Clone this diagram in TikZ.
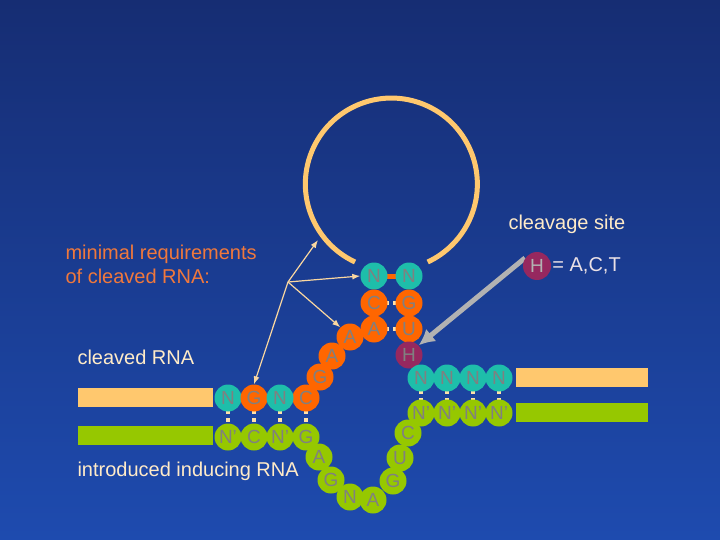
\documentclass[tikz,border=0pt]{standalone}
\usepackage{fontspec}
\setmainfont{Liberation Sans}
\usetikzlibrary{arrows.meta}
\definecolor{cream}{RGB}{255,200,110}
\definecolor{lgreen}{RGB}{150,200,0}
\definecolor{teal2}{RGB}{30,190,170}
\definecolor{orng}{RGB}{255,102,0}
\definecolor{maroon2}{RGB}{150,40,95}
\definecolor{pairc}{RGB}{255,225,170}
\definecolor{reqc}{RGB}{250,215,160}
\definecolor{bgtop}{RGB}{22,45,115}
\definecolor{bgbot}{RGB}{30,75,175}
\definecolor{txtc}{RGB}{255,235,200}
\definecolor{otxt}{RGB}{240,120,60}
\definecolor{ltxt}{RGB}{235,225,230}
\definecolor{lett}{RGB}{128,128,128}
\begin{document}
\begin{tikzpicture}[x=1pt,y=-1pt,
  base/.style={circle,minimum size=27pt,inner sep=0pt,text=lett,font=\fontsize{19}{19}\selectfont},
  tl/.style={base,fill=teal2},
  og/.style={base,fill=orng},
  gr/.style={base,fill=lgreen},
  mr/.style={base,fill=maroon2},
  pair/.style={draw=pairc,line width=4pt,dash pattern=on 4pt off 4pt},
  req/.style={draw=reqc,line width=1.2pt,-{Latex[length=8pt,width=6pt]}},
  lbl/.style={font=\fontsize{20}{24}\selectfont,anchor=west,align=left}]
\shade[top color=bgtop,bottom color=bgbot] (0,0) rectangle (720,540);
\useasboundingbox (0,0) rectangle (720,540);
% loop
\draw[cream,line width=5pt] (355,262) arc[start angle=115,end angle=425,radius=86];
% bars
\fill[cream] (78,388) rectangle (213,407);
\fill[lgreen] (78,426) rectangle (213,445);
\fill[cream] (516,368) rectangle (648,387);
\fill[lgreen] (516,403) rectangle (648,422);
% pairs
\draw[orng,line width=5pt] (374,276)--(409,276);
\draw[pair] (385,303)--(398,303);
\draw[pair] (385,329)--(398,329);
\foreach \x in {228,254,280,306} \draw[pair] (\x,410)--(\x,425);
\foreach \x in {421,447,473,499} \draw[pair] (\x,390)--(\x,402);
% nucleotides
\node[tl] (n1) at (374,276) {N}; \node[tl] (n2) at (409,276) {N};
\node[og] (c1) at (374,303) {C}; \node[og] (g1) at (409,303) {G};
\node[og] (a1) at (374,329) {A}; \node[og] (u1) at (409,329) {U};
\node[mr] (h1) at (409,355) {H};
\node[og] (a2) at (350,337) {A};
\node[og] (a3) at (332,356) {A};
\node[og] (g2) at (320,377) {G};
\node[og] (c2) at (306,398) {C};
\node[tl] (n3) at (228,398) {N}; \node[og] (g3) at (254,398) {G}; \node[tl] (n4) at (280,398) {N};
\node[gr] (m1) at (228,437) {N'}; \node[gr] (m2) at (254,437) {C}; \node[gr] (m3) at (280,437) {N'}; \node[gr] (m4) at (306,437) {G};
\node[gr] (l1) at (319,457) {A}; \node[gr] (l2) at (331,480) {G}; \node[gr] (l3) at (350,497) {N}; \node[gr] (l4) at (373,500) {A};
\node[gr] (l5) at (393,481) {G}; \node[gr] (l6) at (400,458) {U}; \node[gr] (l7) at (408,433) {C};
\foreach \x in {421,447,473,499} {\node[gr] (b\x) at (\x,413) {N'}; \node[tl] (t\x) at (\x,378) {N};}
% arrows
\coordinate (hub) at (288,282);
\coordinate (looppt) at (318,240);
\draw[req] (hub) -- (looppt);
\draw[req] (hub) -- (n1.west);
\draw[req] (hub) -- (a2.north west);
\draw[req] (hub) -- (g3.north);
\coordinate (gstart) at (525,258);
\draw[gray!60,line width=5pt,-{Latex[length=16pt,width=16pt]}] (gstart) -- (h1.north east);
% legend
\node[mr,minimum size=28pt,text=gray!60] (hl) at (537,266) {H};
\node[lbl,text=ltxt,inner sep=1pt] (hlt) at (hl.east) {= A,C,T};
\node[lbl,text=txtc] (cs) at (505,224) {cleavage site};
\node[lbl,text=otxt] (mr1) at (62,264) {minimal requirements\\of cleaved RNA:};
\node[lbl,text=txtc] (cr) at (74,357) {cleaved RNA};
\node[lbl,text=txtc] (ir) at (74,471) {introduced inducing RNA};
\end{tikzpicture}
\end{document}
